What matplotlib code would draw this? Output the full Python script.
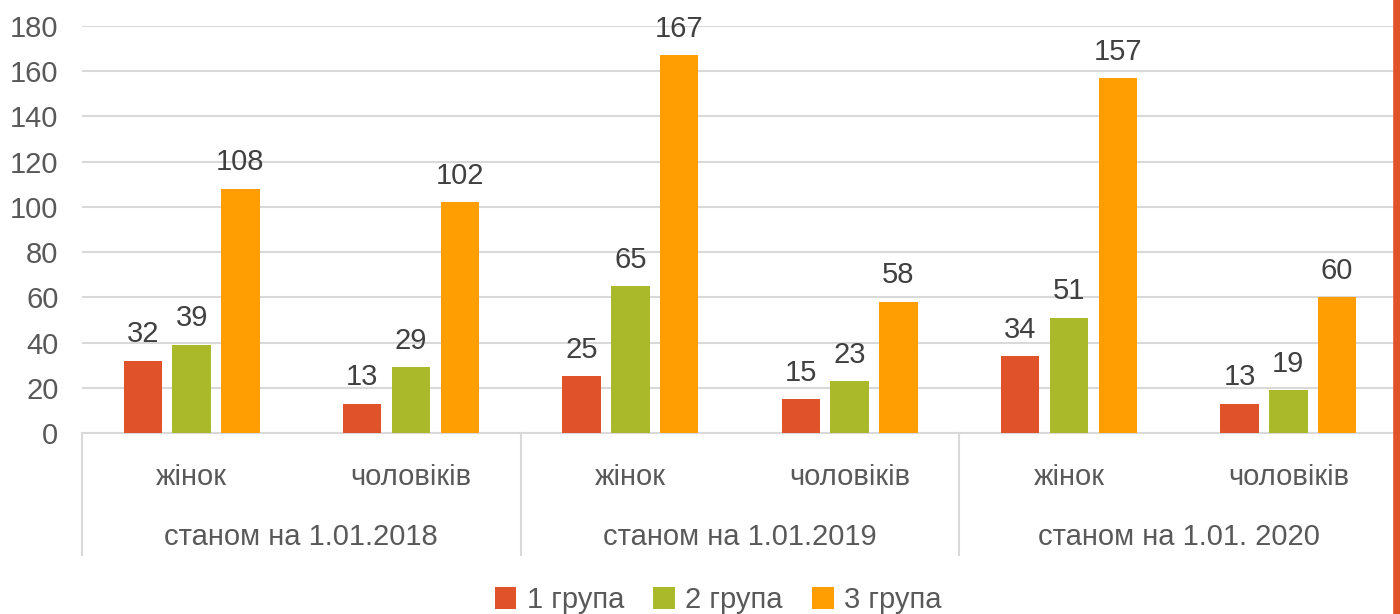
import matplotlib
matplotlib.use("Agg")
import matplotlib.pyplot as plt
import matplotlib.transforms as mtransforms
from matplotlib.patches import Patch
import numpy as np

plt.rcParams['font.family'] = ['Liberation Sans', 'DejaVu Sans']

# data
categories = ['жінок', 'чоловіків', 'жінок', 'чоловіків', 'жінок', 'чоловіків']
groups = ['станом на 1.01.2018', 'станом на 1.01.2019', 'станом на 1.01. 2020']
series_names = ['1 група', '2 група', '3 група']
group1 = [32, 13, 25, 15, 34, 13]
group2 = [39, 29, 65, 23, 51, 19]
group3 = [108, 102, 167, 58, 157, 60]
colors = ['#E0532A', '#A9B92A', '#FF9E03']

W, H = 1400, 614
fig = plt.figure(figsize=(W / 100, H / 100), dpi=100)
ax = fig.add_axes([82 / W, (H - 433) / H, (1398 - 82) / W, (433 - 26) / H])

x = np.arange(len(categories))
bar_w = 0.175
step = 0.222
text_col = '#595959'
fs = 21

for k, (vals, name, col) in enumerate(zip([group1, group2, group3], series_names, colors)):
    xs = x + (k - 1) * step
    ax.bar(xs, vals, width=bar_w, color=col, label=name, zorder=3)
    for xi, v in zip(xs, vals):
        ax.text(xi, v + 5.5, str(v), ha='center', va='bottom', fontsize=fs, color='#404040')

ax.set_xlim(-0.5, len(categories) - 0.5)
ax.set_ylim(0, 180)
ax.set_yticks(range(0, 181, 20))
ax.tick_params(axis='y', length=0, labelsize=fs, labelcolor=text_col, pad=17)
ax.set_xticks([])
ax.grid(axis='y', color='#D9D9D9', linewidth=1.5, zorder=0)
for s in ['left', 'right', 'top']:
    ax.spines[s].set_visible(False)
ax.spines['bottom'].set_color('#D9D9D9')
ax.spines['bottom'].set_linewidth(1.5)

# two-level category axis
trans = mtransforms.blended_transform_factory(ax.transData, ax.transAxes)
sep_bottom = -(555 - 433) / (433 - 26)
for b in [-0.5, 1.5, 3.5, 5.5]:
    ax.plot([b, b], [0, sep_bottom], transform=trans, color='#D9D9D9',
            linewidth=1.5, clip_on=False)
cat_y = -(477 - 433) / (433 - 26)
grp_y = -(537 - 433) / (433 - 26)
for xi, c in zip(x, categories):
    ax.text(xi, cat_y, c, transform=trans, ha='center', va='center',
            fontsize=fs, color=text_col)
for gi, g in enumerate(groups):
    ax.text(2 * gi + 0.5, grp_y, g, transform=trans, ha='center', va='center',
            fontsize=fs, color=text_col)

handles = [Patch(facecolor=c, label=n) for c, n in zip(colors, series_names)]
leg = fig.legend(handles=handles, loc='center', bbox_to_anchor=(718 / W, 1 - 600 / H),
                 ncol=3, frameon=False, fontsize=fs, handlelength=0.75, handleheight=0.75,
                 handletextpad=0.35, columnspacing=1.0, borderaxespad=0)
for t in leg.get_texts():
    t.set_color(text_col)

# red edge on the right
fig.add_artist(plt.Line2D([1396.5 / W, 1396.5 / W], [0, 1], transform=fig.transFigure,
                          color='#E0532A', linewidth=5.5))

fig.savefig('out.png', dpi=100)
